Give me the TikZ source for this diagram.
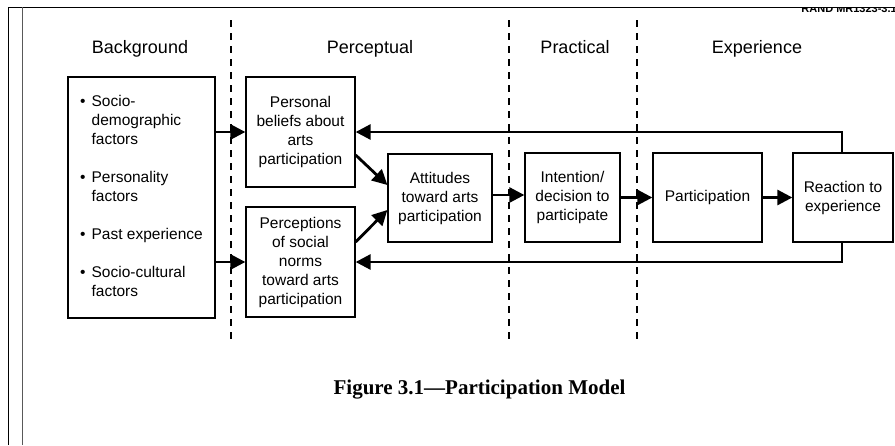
\documentclass[tikz,border=0pt]{standalone}
\usepackage{fontspec}
\setmainfont{Liberation Sans}
\newfontfamily\capfont{Liberation Serif}
\usetikzlibrary{arrows.meta,calc}

\begin{document}
\begin{tikzpicture}[x=1pt,y=-1pt,
  box/.style={draw, line width=1.3pt, inner sep=0pt, align=center,
              font=\fontsize{15.5}{19}\selectfont},
  head/.style={font=\fontsize{18}{20}\selectfont, inner sep=0pt, anchor=base},
  arr/.style={line width=2.8pt, -{Triangle[length=15pt,width=15pt]}},
  divider/.style={line width=1.1pt, dash pattern=on 7pt off 6pt}]
\useasboundingbox (0,0) rectangle (895,445);

% page frame
\draw[line width=1pt] (8,445) -- (8,7) -- (895,7);
\draw[line width=1.4pt, black!65] (22.5,7) -- (22.5,445);
\begin{scope}
  \clip (780,8) rectangle (895,20);
  \node[anchor=east, font=\bfseries\fontsize{11}{12}\selectfont, inner sep=0pt] (tag) at (897,8.5) {RAND MR1323-3.1};
\end{scope}

% dividers
\draw[divider] (231,20) -- (231,343);
\draw[divider] (509,20) -- (509,343);
\draw[divider] (637,20) -- (637,343);

% headers
\node[head] (h1) at (140,53.5) {Background};
\node[head] (h2) at (370,53.5) {Perceptual};
\node[head] (h3) at (575,53.5) {Practical};
\node[head] (h4) at (757,53.5) {Experience};

% boxes
\node[box, minimum width=147pt, minimum height=241pt] (bg) at (141.5,197.5) {%
  \begin{tabular}{@{}c@{\hspace{6pt}}l@{}}
  \textbullet & Socio-\\
   & demographic\\
   & factors\\[19pt]
  \textbullet & Personality\\
   & factors\\[19pt]
  \textbullet & Past experience\\[19pt]
  \textbullet & Socio-cultural\\
   & factors
  \end{tabular}};
\node[box, minimum width=109pt, minimum height=110pt] (pb) at (300.5,132) {Personal\\beliefs about\\arts\\participation};
\node[box, minimum width=109pt, minimum height=110pt] (pn) at (300.5,262) {Perceptions\\of social\\norms\\toward arts\\participation};
\node[box, minimum width=104pt, minimum height=88pt] (att) at (440,198) {Attitudes\\toward arts\\participation};
\node[box, minimum width=95pt, minimum height=89pt] (int) at (572.5,197.5) {Intention/\\decision to\\participate};
\node[box, minimum width=109pt, minimum height=89pt] (part) at (707.5,197.5) {\raisebox{3pt}{Participation}};
\node[box, minimum width=100pt, minimum height=89pt] (react) at (843,197.5) {Reaction to\\experience};

% arrows
\draw[arr] (bg.east |- pb.west) -- (pb.west);
\draw[arr] (bg.east |- pn.west) -- (pn.west);
\draw[arr] ($(pb.east)+(0,23)$) -- ($(att.west)+(0,-13)$);
\draw[arr] ($(pn.east)+(0,-20)$) -- ($(att.west)+(0,12)$);
\draw[arr] ($(att.east)+(0,-3)$) -- ($(int.west)+(0,-2.5)$);
\draw[arr] (int.east) -- (part.west);
\draw[arr] (part.east) -- (react.west);
\draw[arr] ([xshift=-1pt]react.north) |- (pb.east);
\draw[arr] ([xshift=-1pt]react.south) |- (pn.east);

% caption
\node[font=\capfont\bfseries\fontsize{21}{24}\selectfont, inner sep=0pt] (cap) at (479.5,390) {Figure 3.1—Participation Model};
\end{tikzpicture}
\end{document}
